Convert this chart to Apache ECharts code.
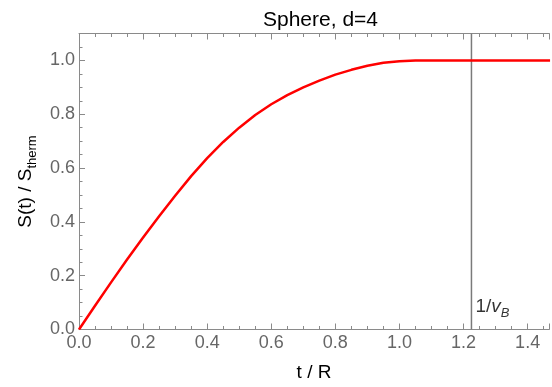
<!DOCTYPE html>
<html>
<head>
<meta charset="utf-8">
<script src="https://cdn.jsdelivr.net/npm/echarts@6/dist/echarts.min.js"></script>
<style>
html,body{margin:0;padding:0;background:#fff;}
#chart{width:552px;height:387px;}
</style>
</head>
<body>
<div id="chart"></div>
<script>
// ---- data ----
const titleText = 'Sphere, d=4';
const tValues = [0, 0.05, 0.1, 0.15, 0.2, 0.25, 0.3, 0.35, 0.4, 0.45, 0.5, 0.55, 0.6, 0.65, 0.7, 0.75, 0.8, 0.85, 0.9, 0.95, 1.0, 1.05, 1.1, 1.2, 1.3, 1.4, 1.47];
const sValues = [0, 0.088, 0.175, 0.260, 0.342, 0.421, 0.497, 0.570, 0.637, 0.697, 0.750, 0.797, 0.837, 0.871, 0.900, 0.925, 0.947, 0.965, 0.980, 0.991, 0.997, 1.0, 1.0, 1.0, 1.0, 1.0, 1.0];
const vBLineX = 1.2247;          // position of 1/v_B
const vBLineY = [0, 1.1];        // vertical extent
const vBLabelY = 0.085;          // height of the 1/v_B label
const xRange = [0, 1.4667];      // visible part of the frame
const yRange = [0, 1.1];
const majorStep = 0.2;
const minorStep = 0.05;

const curve = tValues.map((t, i) => [t, sValues[i]]);
const vLine = vBLineY.map(y => [vBLineX, y]);

const axisColor = '#8a8a8a';
const labelColor = '#666666';
const font = 'Liberation Sans, Arial, sans-serif';

function labelFmt(v) {
  const r = v / minorStep;
  if (Math.abs(r - Math.round(r)) > 1e-6) return '';
  return (Math.round(r) % Math.round(majorStep / minorStep) === 0) ? v.toFixed(1) : '';
}

function mkAxis(kind, pos, step, tickLen, withLabels, withLine, range, extra) {
  return Object.assign({
    type: 'value', position: pos, min: range[0], max: range[1], interval: step,
    axisLine: { show: withLine, onZero: false, lineStyle: { color: axisColor, width: 1 } },
    axisTick: { show: true, inside: true, length: tickLen, lineStyle: { color: axisColor, width: 1 } },
    axisLabel: withLabels ? {
      show: true, formatter: labelFmt, color: labelColor, fontSize: 18, fontFamily: font,
      margin: kind === 'x' ? 5 : 4, showMaxLabel: true, showMinLabel: true
    } : { show: false },
    splitLine: { show: false }
  }, extra || {});
}

const chart = echarts.init(document.getElementById('chart'), null, { renderer: 'canvas' });
chart.setOption({
  animation: false,
  backgroundColor: '#ffffff',
  title: {
    text: titleText, left: 320.5, top: 9.5, padding: 0, textAlign: 'center',
    textStyle: { fontSize: 21, fontWeight: 'normal', color: '#000', fontFamily: font }
  },
  grid: { left: 79, top: 33.5, bottom: 52.5, right: 0, containLabel: false },
  xAxis: [
    mkAxis('x', 'bottom', minorStep, 3.5, true, true, xRange, {
      name: 't / R', nameLocation: 'middle', nameGap: 33.5,
      nameTextStyle: { fontSize: 19, color: '#000', fontFamily: font, padding: [0, 0, 0, 0] }
    }),
    mkAxis('x', 'bottom', majorStep, 6, false, false, xRange),
    mkAxis('x', 'top', minorStep, 3.5, false, true, xRange),
    mkAxis('x', 'top', majorStep, 6, false, false, xRange)
  ],
  yAxis: [
    mkAxis('y', 'left', minorStep, 3.5, true, true, yRange, {
      name: '{m|S(t) / S}{s|therm}', nameLocation: 'middle', nameGap: 35,
      nameTextStyle: {
        fontFamily: font, color: '#000',
        rich: {
          m: { fontSize: 19, lineHeight: 26, color: '#000', fontFamily: font },
          s: { fontSize: 13, lineHeight: 26, verticalAlign: 'bottom', color: '#000', fontFamily: font }
        }
      }
    }),
    mkAxis('y', 'left', majorStep, 6, false, false, yRange)
  ],
  series: [
    {
      type: 'line', name: 'vB', data: vLine, xAxisIndex: 0, yAxisIndex: 0,
      showSymbol: false, symbol: 'none', silent: true,
      lineStyle: { color: '#7a7a7a', width: 1.5 }, z: 2
    },
    {
      type: 'scatter', data: [[vBLineX, vBLabelY]], xAxisIndex: 0, yAxisIndex: 0,
      symbolSize: 0, silent: true,
      label: {
        show: true, position: 'right', distance: 4,
        formatter: '{n|1/}{v|v}{s|B}',
        rich: {
          n: { fontSize: 19, lineHeight: 26, color: '#000', fontFamily: font },
          v: { fontSize: 19, lineHeight: 26, fontStyle: 'italic', color: '#000', fontFamily: font },
          s: { fontSize: 13, lineHeight: 26, verticalAlign: 'bottom', fontStyle: 'italic', color: '#000', fontFamily: font }
        }
      }
    },
    {
      type: 'line', name: 'S', data: curve, xAxisIndex: 0, yAxisIndex: 0,
      showSymbol: false, symbol: 'none', smooth: false, silent: true,
      lineStyle: { color: '#ff0000', width: 2.5, join: 'round' }, z: 3
    }
  ]
});
</script>
</body>
</html>
